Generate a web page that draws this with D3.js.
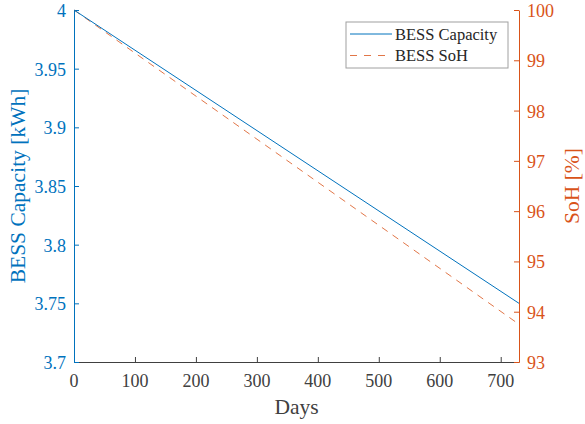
<!DOCTYPE html>
<html>
<head>
<meta charset="utf-8">
<script src="https://cdn.jsdelivr.net/npm/d3@7"></script>
<style>
  html, body { margin: 0; padding: 0; background: #fff; }
  svg { display: block; font-family: "Liberation Serif", "Times New Roman", serif; }
</style>
</head>
<body>
<svg id="chart" width="585" height="424"></svg>
<script>
// Battery degradation over two years
const days = [0, 730];
const capacityKWh = [4.0, 3.75];
const sohPercent = [100, 93.75];
const xTicks = [0, 100, 200, 300, 400, 500, 600, 700];
const leftTicks = [3.7, 3.75, 3.8, 3.85, 3.9, 3.95, 4.0];
const rightTicks = [93, 94, 95, 96, 97, 98, 99, 100];
const seriesNames = ["BESS Capacity", "BESS SoH"];

const blue = "#0072BD", orange = "#D95319", dark = "#404040";
const margin = { left: 74, right: 66, top: 10, bottom: 62 };
const W = 585, H = 424;
const tickFont = 18, titleFont = 21.5;

const svg = d3.select("#chart");
const x = d3.scaleLinear().domain([0, 730]).range([margin.left, W - margin.right]);
const yL = d3.scaleLinear().domain([3.7, 4.0]).range([H - margin.bottom, margin.top]);
const yR = d3.scaleLinear().domain([93, 100]).range([H - margin.bottom, margin.top]);

const fmtL = d => (Math.round(d * 100) / 100).toString();

// axis lines and inward ticks; labels are placed separately
function axisLines(g, color) {
  g.selectAll("text").remove();
  g.select(".domain").attr("stroke", color);
  g.selectAll(".tick line").attr("stroke", color);
}
const gx = svg.append("g").attr("transform", `translate(0,${H - margin.bottom})`)
  .call(d3.axisBottom(x).tickValues(xTicks).tickSize(-5).tickSizeOuter(0));
axisLines(gx, dark);
const gl = svg.append("g").attr("transform", `translate(${margin.left},0)`)
  .call(d3.axisLeft(yL).tickValues(leftTicks).tickSize(-5).tickSizeOuter(0));
axisLines(gl, blue);
const gr = svg.append("g").attr("transform", `translate(${W - margin.right},0)`)
  .call(d3.axisRight(yR).tickValues(rightTicks).tickSize(-5).tickSizeOuter(0));
axisLines(gr, orange);

// tick labels
svg.append("g").selectAll("text").data(xTicks).join("text")
  .attr("x", d => x(d)).attr("y", H - margin.bottom + 25)
  .attr("text-anchor", "middle").attr("fill", dark).attr("font-size", tickFont).text(d => d);
svg.append("g").selectAll("text").data(leftTicks).join("text")
  .attr("x", margin.left - 8).attr("y", d => yL(d) + 7)
  .attr("text-anchor", "end").attr("fill", blue).attr("font-size", tickFont).text(fmtL);
svg.append("g").selectAll("text").data(rightTicks).join("text")
  .attr("x", W - margin.right + 8).attr("y", d => yR(d) + 7)
  .attr("text-anchor", "start").attr("fill", orange).attr("font-size", tickFont).text(d => d);

// axis titles
svg.append("text").attr("x", (margin.left + W - margin.right) / 2).attr("y", 414)
  .attr("text-anchor", "middle").attr("fill", dark).attr("font-size", titleFont).text("Days");
svg.append("text").attr("transform", `translate(25,${(margin.top + H - margin.bottom) / 2}) rotate(-90)`)
  .attr("text-anchor", "middle").attr("fill", blue).attr("font-size", titleFont).text("BESS Capacity [kWh]");
svg.append("text").attr("transform", `translate(579,${(margin.top + H - margin.bottom) / 2}) rotate(-90)`)
  .attr("text-anchor", "middle").attr("fill", orange).attr("font-size", titleFont).text("SoH [%]");

// series
const capLine = d3.line().x((d, i) => x(days[i])).y(d => yL(d));
const sohLine = d3.line().x((d, i) => x(days[i])).y(d => yR(d));
svg.append("path").datum(sohPercent).attr("d", sohLine).attr("fill", "none")
  .attr("stroke", orange).attr("stroke-width", 0.8).attr("stroke-dasharray", "7,6");
svg.append("path").datum(capacityKWh).attr("d", capLine).attr("fill", "none")
  .attr("stroke", blue).attr("stroke-width", 1);

// legend
const lg = svg.append("g").attr("transform", "translate(346,22)");
lg.append("rect").attr("width", 162).attr("height", 46).attr("fill", "#fff")
  .attr("stroke", "#a0a0a0").attr("stroke-width", 1);
const styles = [{ c: blue, dash: null, w: 1 }, { c: orange, dash: "7,7", w: 0.8 }];
seriesNames.forEach((name, i) => {
  const yy = 12 + i * 21.5;
  lg.append("line").attr("x1", 4).attr("x2", 46).attr("y1", yy).attr("y2", yy)
    .attr("stroke", styles[i].c).attr("stroke-width", styles[i].w)
    .attr("stroke-dasharray", styles[i].dash);
  lg.append("text").attr("x", 49).attr("y", yy + 5.5).attr("font-size", 16.5)
    .attr("fill", "#262626").text(name);
});
</script>
</body>
</html>
